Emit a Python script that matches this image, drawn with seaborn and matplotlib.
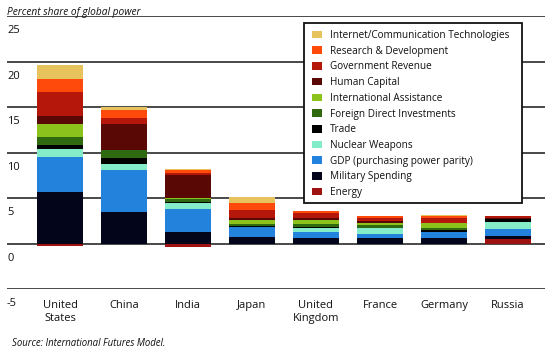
import matplotlib
matplotlib.use("Agg")
import matplotlib.pyplot as plt
import seaborn as sns
import pandas as pd
import numpy as np
from matplotlib.patches import Patch, Rectangle

# ---- data (percent share of global power) ----
countries = ["United\nStates", "China", "India", "Japan", "United\nKingdom",
             "France", "Germany", "Russia"]
energy    = [-0.25, 0.00, -0.40, 0.00, 0.00, 0.00, 0.00, 0.50]
military  = [5.63, 3.41, 1.30, 0.70, 0.55, 0.55, 0.60, 0.35]
gdp       = [3.89, 4.66, 2.52, 1.10, 0.67, 0.45, 0.70, 0.70]
nuclear   = [0.86, 0.63, 0.63, 0.05, 0.52, 0.65, 0.00, 0.80]
trade     = [0.44, 0.74, 0.10, 0.10, 0.10, 0.10, 0.15, 0.30]
fdi       = [0.85, 0.86, 0.35, 0.20, 0.30, 0.25, 0.25, 0.00]
intl      = [1.48, 0.00, 0.10, 0.40, 0.45, 0.30, 0.50, 0.00]
human     = [0.85, 2.85, 2.50, 0.20, 0.18, 0.15, 0.10, 0.10]
govrev    = [2.60, 0.63, 0.27, 0.90, 0.55, 0.35, 0.45, 0.25]
rnd       = [1.44, 0.85, 0.27, 0.85, 0.30, 0.20, 0.25, 0.05]
ict       = [1.59, 0.37, 0.10, 0.65, 0.00, 0.05, 0.10, 0.00]

series_names = ["Energy", "Military Spending", "GDP (purchasing power parity)",
                "Nuclear Weapons", "Trade", "Foreign Direct Investments",
                "International Assistance", "Human Capital", "Government Revenue",
                "Research & Development", "Internet/Communication Technologies"]
series_vals = [energy, military, gdp, nuclear, trade, fdi, intl, human, govrev, rnd, ict]
colors = ["#9e1212", "#03061a", "#2382dc", "#84ecc8", "#000000", "#2f6a10",
          "#8cc21c", "#5a0806", "#b5180a", "#ff4a0c", "#e6c35c"]

y_ticks = [-5, 0, 5, 10, 15, 20, 25]
title_text = "Percent share of global power"
source_text = "Source: International Futures Model."

# ---- figure ----
sns.set_style("white")
plt.rcParams["font.family"] = ["Open Sans", "DejaVu Sans"]

W, H = 550, 353
fig = plt.figure(figsize=(5.5, 3.53), dpi=100)
ax = fig.add_axes([7 / W, 1 - 289 / H, 538 / W, (289 - 16) / H])

df = pd.DataFrame({"country": countries})
for name, vals in zip(series_names, series_vals):
    df[name] = vals

# cumulative tops: bottom layer is energy (its own sign), others stack on positive base
running = np.clip(df["Energy"].to_numpy(), 0, None)
cum = {series_names[0]: df["Energy"].to_numpy()}
for name in series_names[1:]:
    running = running + df[name].to_numpy()
    cum[name] = running.copy()

# draw from top layer down so each overdraws the previous
for name, col in reversed(list(zip(series_names, colors))):
    sns.barplot(x=df["country"], y=cum[name], order=countries, color=col,
                saturation=1, width=0.72, errorbar=None, linewidth=0,
                edgecolor="none", ax=ax, zorder=3)

ax.set_ylim(-5, 25)
ax.set_xlim(-0.83, 7.58)
ax.set_yticks(y_ticks)
ax.yaxis.grid(True, color="#3a3a3a", linewidth=1.3)
ax.xaxis.grid(False)
ax.set_axisbelow(True)
for s in ax.spines.values():
    s.set_visible(False)
ax.set_ylabel("")
ax.set_xlabel("")
ax.tick_params(axis="y", length=0, labelleft=False)
ax.tick_params(axis="x", length=0, pad=8, labelsize=8, colors="#111111")

for v in y_ticks:
    ax.annotate(str(v), xy=(0, v), xycoords=("axes fraction", "data"),
                xytext=(0, -6.5), textcoords="offset points",
                ha="left", va="top", fontsize=8, color="#111111")

fig.text(7 / W, 1 - 12 / H, title_text, ha="left", va="center",
         fontsize=7.3, style="italic", color="#111111")
fig.text(12 / W, 1 - 343 / H, source_text, ha="left", va="center",
         fontsize=6.9, style="italic", color="#111111")

# legend box
ax.add_patch(Rectangle((304 / W, 1 - 203 / H), (522 - 304) / W, (203 - 23) / H,
                       transform=fig.transFigure, facecolor="white",
                       edgecolor="#111111", linewidth=1.3, zorder=4,
                       clip_on=False))

handles = [Patch(facecolor=c, edgecolor="none", label=n)
           for n, c in zip(series_names, colors)]
handles = handles[::-1]
leg = ax.legend(handles=handles, loc="upper left",
                bbox_to_anchor=(312 / W, 1 - 30 / H),
                bbox_transform=fig.transFigure,
                frameon=False, fontsize=7.2,
                handlelength=1.0, handleheight=0.8, handletextpad=0.8,
                labelspacing=0.47, borderpad=0, borderaxespad=0)
for t in leg.get_texts():
    t.set_color("#111111")
leg.set_zorder(5)

fig.savefig("out.png", dpi=100)
